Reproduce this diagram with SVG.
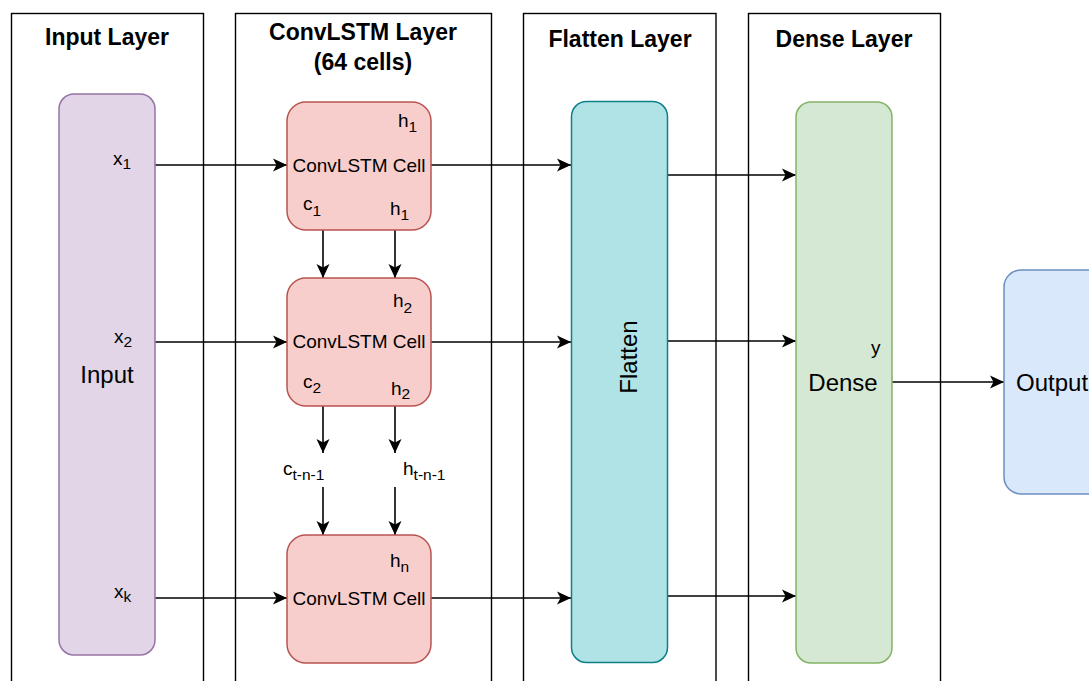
<svg xmlns="http://www.w3.org/2000/svg" width="1089" height="681" viewBox="0 0 1089 681">
<style>
.frame{fill:none;stroke:#000;stroke-width:1.4}
.title{font-family:"Liberation Sans",Arial,sans-serif;font-weight:bold;font-size:23px;fill:#000;text-anchor:middle}
.lbl{font-family:"Liberation Sans",Arial,sans-serif;font-size:19px;fill:#000}
.big{font-family:"Liberation Sans",Arial,sans-serif;font-size:24px;fill:#000}
.sub{font-size:15.5px}
.mid{text-anchor:middle}
.edge{fill:none;stroke:#000;stroke-width:1.6;marker-end:url(#arr)}
.inp{fill:#e1d5e7;stroke:#9673a6;stroke-width:1.5}
.cell{fill:#f8cecc;stroke:#b85450;stroke-width:1.5}
.flat{fill:#b0e3e6;stroke:#0e8088;stroke-width:1.5}
.dense{fill:#d5e8d4;stroke:#82b366;stroke-width:1.5}
.out{fill:#dae8fc;stroke:#6c8ebf;stroke-width:1.5}
</style>
<defs>
<marker id="arr" markerUnits="userSpaceOnUse" markerWidth="15" markerHeight="14" refX="14" refY="7" orient="auto" viewBox="0 0 15 14">
<path d="M0,0.5 L14,7 L0,13.5 L3.5,7 Z" fill="#000"/>
</marker>
</defs>
<rect width="1089" height="681" fill="#fff"/>
<g id="frame-input"><rect class="frame" x="11.5" y="13.5" width="192" height="700"/><text class="title" x="107" y="45">Input Layer</text></g>
<g id="frame-convlstm"><rect class="frame" x="235.5" y="13.5" width="256" height="700"/><text class="title" x="363" y="40">ConvLSTM Layer</text><text class="title" x="363" y="70">(64 cells)</text></g>
<g id="frame-flatten"><rect class="frame" x="523.5" y="13.5" width="192.5" height="700"/><text class="title" x="620" y="47">Flatten Layer</text></g>
<g id="frame-dense"><rect class="frame" x="748.5" y="13.5" width="192" height="700"/><text class="title" x="844" y="47">Dense Layer</text></g>

<g id="connectors">
<line class="edge" x1="155" y1="165" x2="287" y2="165"/>
<line class="edge" x1="155" y1="342" x2="287" y2="342"/>
<line class="edge" x1="155" y1="598" x2="287" y2="598"/>
<line class="edge" x1="431" y1="165" x2="571" y2="165"/>
<line class="edge" x1="431" y1="342" x2="571" y2="342"/>
<line class="edge" x1="431" y1="598" x2="571" y2="598"/>
<line class="edge" x1="667" y1="175" x2="796" y2="175"/>
<line class="edge" x1="667" y1="341" x2="796" y2="341"/>
<line class="edge" x1="667" y1="596" x2="796" y2="596"/>
<line class="edge" x1="891" y1="382" x2="1004" y2="382"/>
<line class="edge" x1="323" y1="230" x2="323" y2="278"/>
<line class="edge" x1="395" y1="230" x2="395" y2="278"/>
<line class="edge" x1="323" y1="406" x2="323" y2="453"/>
<line class="edge" x1="395" y1="406" x2="395" y2="453"/>
<line class="edge" x1="323" y1="487" x2="323" y2="535"/>
<line class="edge" x1="395" y1="487" x2="395" y2="535"/>
</g>

<g id="input">
<rect class="inp" x="59" y="94" width="96" height="561" rx="15"/>
<text class="big mid" x="107" y="383">Input</text>
<text class="lbl" x="113" y="165">x<tspan class="sub" dy="4">1</tspan></text>
<text class="lbl" x="114" y="343">x<tspan class="sub" dy="4">2</tspan></text>
<text class="lbl" x="114" y="598">x<tspan class="sub" dy="4">k</tspan></text>
</g>

<g id="cell1">
<rect class="cell" x="287" y="102" width="144" height="128" rx="19"/>
<text class="lbl mid" x="359" y="172">ConvLSTM Cell</text>
<text class="lbl" x="398" y="127">h<tspan class="sub" dy="5">1</tspan></text>
<text class="lbl" x="303" y="210">c<tspan class="sub" dy="6">1</tspan></text>
<text class="lbl" x="390" y="215">h<tspan class="sub" dy="5">1</tspan></text>
</g>

<g id="cell2">
<rect class="cell" x="287" y="278" width="144" height="128" rx="19"/>
<text class="lbl mid" x="359" y="348">ConvLSTM Cell</text>
<text class="lbl" x="393" y="307">h<tspan class="sub" dy="6">2</tspan></text>
<text class="lbl" x="303" y="388">c<tspan class="sub" dy="5">2</tspan></text>
<text class="lbl" x="391" y="395">h<tspan class="sub" dy="4">2</tspan></text>
</g>

<g id="state-labels">
<text class="lbl" x="283" y="475">c<tspan class="sub" dy="5">t-n-1</tspan></text>
<text class="lbl" x="403" y="475">h<tspan class="sub" dy="5">t-n-1</tspan></text>
</g>

<g id="cell3">
<rect class="cell" x="287" y="535" width="144" height="128" rx="19"/>
<text class="lbl mid" x="359" y="605">ConvLSTM Cell</text>
<text class="lbl" x="390" y="567">h<tspan class="sub" dy="5">n</tspan></text>
</g>

<g id="flatten">
<rect class="flat" x="571.5" y="101.5" width="96" height="561" rx="15"/>
<text class="big mid" x="0" y="0" transform="translate(637,357) rotate(-90)">Flatten</text>
</g>

<g id="dense">
<rect class="dense" x="796" y="102" width="96" height="561" rx="15"/>
<text class="big mid" x="843" y="391">Dense</text>
<text class="lbl" x="871" y="354">y</text>
</g>

<g id="output">
<rect class="out" x="1004" y="270" width="130" height="224" rx="17"/>
<text class="big" x="1016" y="391">Output</text>
</g>
</svg>
